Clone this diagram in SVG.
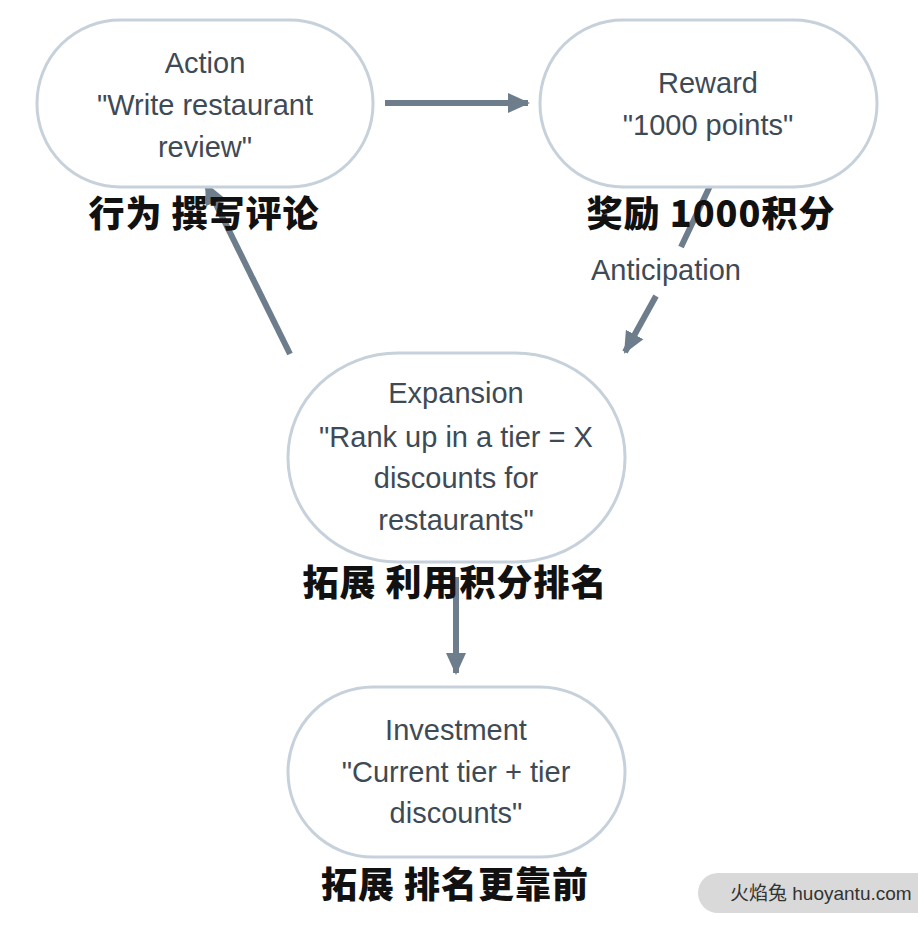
<svg xmlns="http://www.w3.org/2000/svg" width="918" height="929" viewBox="0 0 918 929">
<style>
.node{fill:#fff;stroke:#c6d1db;stroke-width:3}
.t{font-family:"Liberation Sans","DejaVu Sans",sans-serif;font-size:29px;fill:#3e4a55;text-anchor:middle}
.cn{font-family:"Noto Sans CJK SC","Noto Sans",sans-serif;font-size:36px;font-weight:900;letter-spacing:1px;fill:#111;text-anchor:middle}
.edge{stroke:#6e7d8c;stroke-width:6;fill:none}
.wm{font-family:"Liberation Sans","Noto Sans CJK SC",sans-serif;font-size:19px;fill:#333}
</style>
<defs>
<marker id="ah" markerUnits="userSpaceOnUse" markerWidth="24" markerHeight="24" refX="20" refY="12" orient="auto">
<path d="M0,2 L22,12 L0,22 Z" fill="#6e7d8c"/>
</marker>
</defs>
<rect width="918" height="929" fill="#fff"/>
<g id="connectors">
<line class="edge" x1="385" y1="103" x2="528" y2="103" marker-end="url(#ah)"/>
<line class="edge" x1="710" y1="186" x2="681" y2="247"/>
<line class="edge" x1="656" y1="296" x2="625" y2="352" marker-end="url(#ah)"/>
<line class="edge" x1="290" y1="354" x2="206" y2="184" marker-end="url(#ah)"/>
<line class="edge" x1="456" y1="577" x2="456" y2="673" marker-end="url(#ah)"/>
<text class="t" x="666" y="280">Anticipation</text>
</g>
<g id="action">
<rect class="node" x="37" y="20" width="336" height="167" rx="83" ry="83"/>
<text class="t" x="205" y="73">Action</text>
<text class="t" x="205" y="115">"Write restaurant</text>
<text class="t" x="205" y="157">review"</text>
<text class="cn" x="204" y="227">行为 撰写评论</text>
</g>
<g id="reward">
<rect class="node" x="540" y="20" width="337" height="167" rx="83" ry="83"/>
<text class="t" x="708" y="93">Reward</text>
<text class="t" x="708" y="135">"1000 points"</text>
<text class="cn" x="711" y="227">奖励 1000积分</text>
</g>
<g id="expansion">
<rect class="node" x="288" y="353" width="337" height="209" rx="110" ry="104"/>
<text class="t" x="456" y="403">Expansion</text>
<text class="t" x="456" y="447">"Rank up in a tier = X</text>
<text class="t" x="456" y="488">discounts for</text>
<text class="t" x="456" y="530">restaurants"</text>
<text class="cn" x="455" y="596">拓展 利用积分排名</text>
</g>
<g id="investment">
<rect class="node" x="288" y="687" width="337" height="170" rx="85" ry="85"/>
<text class="t" x="456" y="740">Investment</text>
<text class="t" x="456" y="782">"Current tier + tier</text>
<text class="t" x="456" y="823">discounts"</text>
<text class="cn" x="455" y="898">拓展 排名更靠前</text>
</g>
<g id="watermark">
<rect x="698" y="873" width="240" height="40" rx="20" fill="#d9d9d9"/>
<text class="wm" x="730" y="900">火焰兔 huoyantu.com</text>
</g>
</svg>
